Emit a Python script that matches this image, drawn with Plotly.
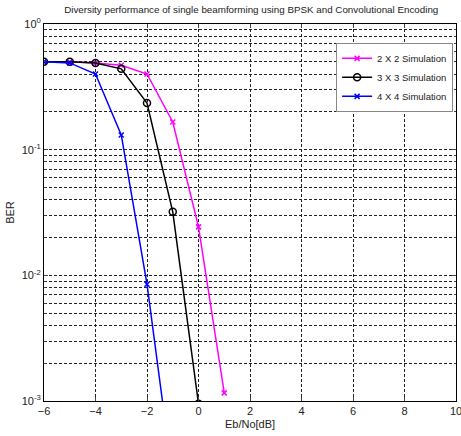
import plotly.graph_objects as go

ebno = [-6, -5, -4, -3, -2, -1, 0, 1]
ber_2x2 = [0.5, 0.5, 0.49, 0.47, 0.40, 0.166, 0.0243, 0.00116]
ber_3x3 = [0.5, 0.5, 0.49, 0.44, 0.235, 0.032, 0.00095]
ber_4x4 = [0.5, 0.49, 0.40, 0.131, 0.0085, 0.00024]

names = ["2 X 2 Simulation", "3 X 3 Simulation", "4 X 4 Simulation"]
ytickvals = [1e-3, 1e-2, 1e-1, 1]
yticktext = ["10<sup>-3</sup>", "10<sup>-2</sup>", "10<sup>-1</sup>", "10<sup>0</sup>"]
xtickvals = [-6, -4, -2, 0, 2, 4, 6, 8, 10]

fig = go.Figure()
fig.add_trace(go.Scatter(x=ebno[:len(ber_2x2)], y=ber_2x2, name=names[0], mode="lines+markers",
                         line=dict(color="#FF00FF", width=1.5),
                         marker=dict(symbol="x-thin-open", size=5, color="#FF00FF",
                                     line=dict(color="#FF00FF", width=1.5))))
fig.add_trace(go.Scatter(x=ebno[:len(ber_3x3)], y=ber_3x3, name=names[1], mode="lines+markers",
                         line=dict(color="black", width=1.5),
                         marker=dict(symbol="circle-open", size=7, color="black",
                                     line=dict(color="black", width=1.5))))
fig.add_trace(go.Scatter(x=ebno[:len(ber_4x4)], y=ber_4x4, name=names[2], mode="lines+markers",
                         line=dict(color="#0000FF", width=1.5),
                         marker=dict(symbol="x-thin-open", size=5, color="#0000FF",
                                     line=dict(color="#0000FF", width=1.5))))

grid = dict(showgrid=True, gridcolor="#222", griddash="3px,2px", gridwidth=0.7)
fig.update_layout(
    width=461, height=436,
    margin=dict(l=44, r=5, t=24, b=35),
    paper_bgcolor="white", plot_bgcolor="white",
    font=dict(family="Liberation Sans, Arial", size=11, color="#222"),
    title=dict(text="Diversity performance of single beamforming using BPSK and Convolutional Encoding",
               x=0.545, xanchor="center", y=0.986, yanchor="top", font=dict(size=9.8)),
    xaxis=dict(range=[-6, 10], tickvals=xtickvals, ticks="inside", ticklen=4,
               showline=True, linecolor="black", linewidth=1, mirror="allticks",
               zeroline=False, automargin=False, ticklabeloverflow="allow",
               title=dict(text="Eb/No[dB]", standoff=4, font=dict(size=11)),
               **grid),
    yaxis=dict(type="log", range=[-3, 0], tickvals=ytickvals, ticktext=yticktext,
               ticks="inside", ticklen=4, showline=True, linecolor="black", linewidth=1,
               mirror="allticks", zeroline=False, automargin=False,
               title=dict(text="BER", standoff=4, font=dict(size=11)),
               minor=dict(tickvals=[m * 10 ** e for e in (-3, -2, -1) for m in range(2, 10)],
                          showgrid=True, gridcolor="#222", griddash="3px,2px", gridwidth=0.7,
                          ticks="inside", ticklen=2),
               **grid),
    legend=dict(x=0.993, y=0.95, xanchor="right", yanchor="top", bgcolor="white",
                bordercolor="#888", borderwidth=1, font=dict(size=9.5),
                tracegroupgap=0, itemwidth=30),
    showlegend=True,
)
fig.write_html("out.html", config={"displayModeBar": False},
               post_script="document.body.style.margin='0';document.body.style.overflow='hidden';")
